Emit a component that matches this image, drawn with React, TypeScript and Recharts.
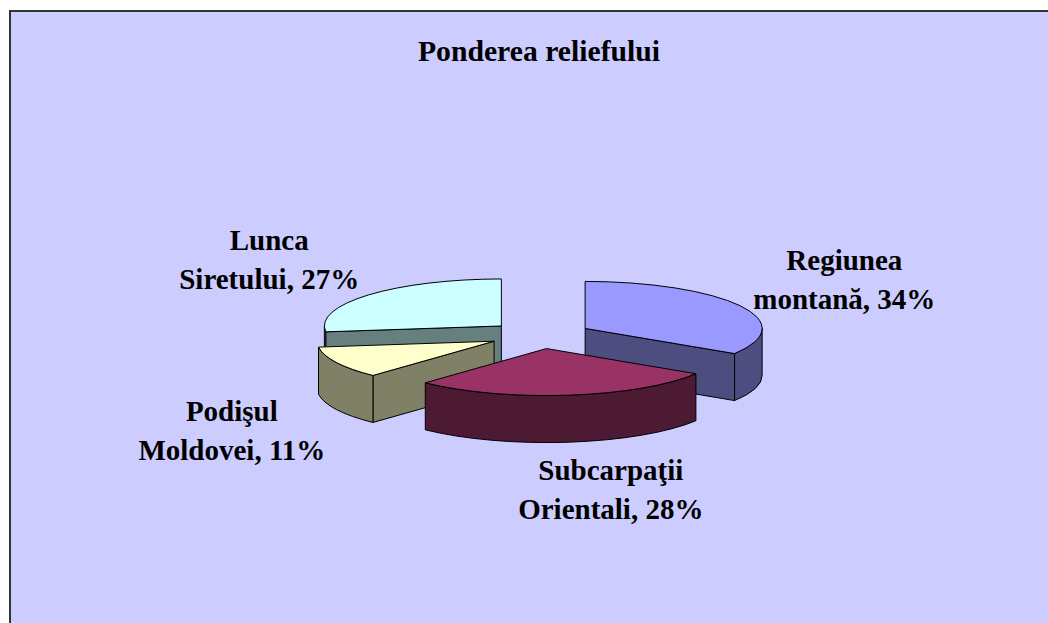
import React from 'react';
import { PieChart, Pie } from 'recharts';

// Slices go counter-clockwise from Regiunea montană so that, drawn in order,
// the front slices cover the ones behind them (same layout as the original)
const categories = ['Regiunea montană', 'Lunca Siretului', 'Podişul Moldovei', 'Subcarpaţii Orientali'];
const values = [34, 27, 11, 28];
const topColors = ['#9999FF', '#CCFFFF', '#FFFFCC', '#993366'];
const sideColors = ['#4D4D80', '#668080', '#808066', '#4D1A33'];
const title = 'Ponderea reliefului';

const data = categories.map((name, i) => ({ name, value: values[i] }));
const total = values.reduce((s, v) => s + v, 0);
const START = 90 - (360 * values[0]) / total;

const TILT = 0.2655; // vertical squash of the pie
const EXPLODE = 51.5;
const DEPTH = 47;
const RAD = Math.PI / 180;
const FONT = '"Liberation Serif", "Times New Roman", serif';

const renderSlice = (props: any) => {
  const { cx, cy, outerRadius, startAngle, endAngle, index, percent } = props;
  const mid = (startAngle + endAngle) / 2;
  const hi = Math.max(startAngle, endAngle);
  const lo = Math.min(startAngle, endAngle);
  const cos = Math.cos(mid * RAD);
  const sin = Math.sin(mid * RAD);
  const ox = cx + EXPLODE * cos;
  const oy = cy - EXPLODE * sin * TILT;
  const rx = outerRadius;
  const ry = outerRadius * TILT;
  const pt = (a: number, d = 0) => `${ox + rx * Math.cos(a * RAD)},${oy - ry * Math.sin(a * RAD) + d}`;
  const large = hi - lo > 180 ? 1 : 0;

  const top = `M${ox},${oy} L${pt(hi)} A${rx},${ry} 0 ${large} 1 ${pt(lo)} Z`;
  const cut = (a: number) => `M${ox},${oy} L${pt(a)} L${pt(a, DEPTH)} L${ox},${oy + DEPTH} Z`;

  // only the radial faces that turn towards the viewer
  const cuts: string[] = [];
  if (Math.cos(hi * RAD) < -0.01) cuts.push(cut(hi));
  if (Math.cos(lo * RAD) > 0.01) cuts.push(cut(lo));

  // outer wall, front half only
  const walls: string[] = [];
  for (const base of [-360, 0, 360]) {
    const a0 = Math.max(lo, base - 180);
    const a1 = Math.min(hi, base);
    if (a1 > a0) {
      walls.push(
        `M${pt(a1)} A${rx},${ry} 0 0 1 ${pt(a0)} L${pt(a0, DEPTH)} A${rx},${ry} 0 0 0 ${pt(a1, DEPTH)} Z`
      );
    }
  }

  const name: string = categories[index];
  const sp = name.indexOf(' ');
  const line1 = name.slice(0, sp);
  const line2 = `${name.slice(sp + 1)}, ${Math.round(percent * 100)}%`;
  const tx = cx + 336 * Math.sign(cos) * Math.pow(Math.abs(cos), 0.75);
  const ty = cy - 110 * sin + (sin < 0 ? 48 : 0);

  const edge = { stroke: '#000', strokeWidth: 1, strokeLinejoin: 'round' as const };
  return (
    <g>
      {cuts.map((d, i) => (
        <path key={`c${i}`} d={d} fill={sideColors[index]} {...edge} />
      ))}
      {walls.map((d, i) => (
        <path key={`w${i}`} d={d} fill={sideColors[index]} {...edge} />
      ))}
      <path d={top} fill={topColors[index]} {...edge} />
      <text textAnchor="middle" fontFamily={FONT} fontWeight="bold" fontSize={29} fill="#000">
        <tspan x={tx} y={ty - 12}>{line1}</tspan>
        <tspan x={tx} y={ty + 27}>{line2}</tspan>
      </text>
    </g>
  );
};

export default function App() {
  return (
    <div style={{ position: 'absolute', left: 0, top: 0, width: 1048, height: 623, background: '#fff' }}>
      <div
        style={{
          position: 'absolute',
          left: 9,
          top: 10,
          width: 1039,
          height: 613,
          boxSizing: 'border-box',
          background: '#CCCCFF',
          borderLeft: '2px solid #333',
          borderTop: '2px solid #333',
        }}
      />
      <div style={{ position: 'absolute', left: 0, top: 0 }}>
        <PieChart width={1048} height={623} margin={{ top: 0, right: 0, bottom: 0, left: 0 }}>
          <Pie
            data={data}
            dataKey="value"
            nameKey="name"
            cx={540}
            cy={335}
            outerRadius={177}
            startAngle={START}
            endAngle={START + 360}
            fill="none"
            stroke="none"
            label={renderSlice}
            labelLine={false}
            isAnimationActive={false}
          />
        </PieChart>
      </div>
      <svg width={1048} height={623} style={{ position: 'absolute', left: 0, top: 0, pointerEvents: 'none' }}>
        <text x={539} y={61} textAnchor="middle" fontFamily={FONT} fontWeight="bold" fontSize={29.7} fill="#000">
          {title}
        </text>
      </svg>
    </div>
  );
}
